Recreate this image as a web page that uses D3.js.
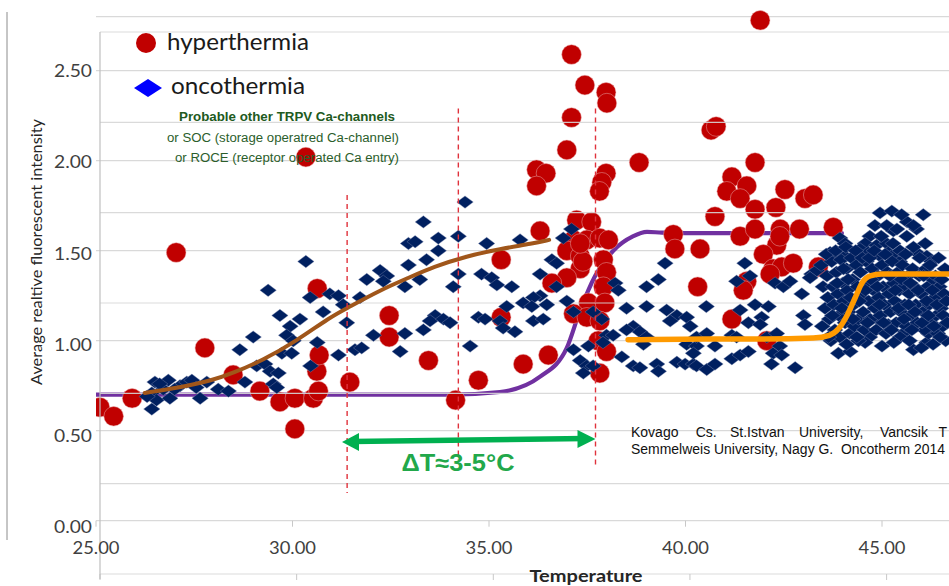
<!DOCTYPE html>
<html><head><meta charset="utf-8">
<script src="https://cdn.jsdelivr.net/npm/d3@7"></script>
<style>body{margin:0;background:#fff}svg{display:block}</style>
</head><body>
<svg id="c" width="949" height="586"></svg>
<script>
// ---------- data ----------
const xTicks = [25, 30, 35, 40, 45];
const yTicks = [0, 0.5, 1, 1.5, 2, 2.5];
const yTicksB = [0, 0.5, 1, 1.5, 2, 2.5, 3];

const hyperthermia = [
[25.10,0.63],[25.45,0.58],[25.92,0.68],[27.04,1.49],[27.77,0.96],[28.49,0.81],[29.17,0.72],[29.68,0.66],
[30.06,0.68],[30.06,0.51],[30.53,0.68],[30.66,0.72],[30.62,0.83],[30.68,0.92],[30.63,1.29],[30.34,2.02],
[31.46,0.77],[32.46,1.14],[32.46,1.02],[34.15,0.67],[33.46,0.89],[34.73,0.78],[35.31,1.45],[35.31,1.13],
[35.87,0.87],[36.51,0.92],[36.30,1.61],[36.21,1.95],[36.45,1.93],[36.21,1.86],[36.98,2.06],[37.10,2.24],
[37.10,2.59],[37.44,2.42],[37.98,2.38],[38.00,2.32],[37.98,1.93],[37.87,1.88],[37.81,1.83],[38.82,1.99],
[37.23,1.67],[37.61,1.66],[37.15,1.56],[37.49,1.56],[37.82,1.57],[38.04,1.56],[36.98,1.50],[37.32,1.47],
[37.91,1.45],[37.32,1.40],[37.99,1.38],[36.98,1.35],[37.39,1.44],[36.60,1.32],[37.91,1.30],[37.53,1.21],
[37.95,1.21],[37.15,1.15],[37.49,1.13],[37.82,1.11],[37.78,1.00],[37.99,0.94],[37.82,0.82],[37.32,1.54],
[39.69,1.59],[39.73,1.51],[40.37,1.51],[40.31,1.30],[40.65,2.17],[40.78,2.19],[41.90,2.78],[41.77,1.99],
[41.18,1.91],[41.56,1.86],[41.05,1.83],[41.39,1.79],[41.77,1.73],[40.75,1.69],[42.53,1.84],[43.04,1.79],
[43.25,1.81],[42.30,1.74],[41.39,1.58],[41.77,1.62],[42.41,1.62],[42.90,1.62],[43.76,1.63],[42.32,1.53],
[41.98,1.48],[42.23,1.40],[42.45,1.41],[42.74,1.43],[42.15,1.37],[41.56,1.33],[41.47,1.28],[41.18,1.12],
[42.07,1.00],[43.38,1.41],[42.40,1.58]
];

const oncothermia = [
[26.42,0.71],[26.54,0.67],[26.42,0.62],[26.50,0.77],[26.84,0.78],[26.71,0.73],[26.88,0.68],[27.14,0.75],
[27.31,0.77],[27.44,0.78],[27.65,0.68],[27.82,0.77],[28.11,0.73],[28.37,0.72],[28.66,0.95],[29.00,1.02],
[28.79,0.77],[29.09,0.86],[29.30,0.87],[29.43,0.83],[29.64,0.82],[29.51,0.76],[29.60,0.74],[29.38,1.28],
[29.68,1.14],[29.94,1.08],[29.85,1.03],[30.19,1.12],[29.73,0.93],[29.98,0.93],[30.02,1.00],[30.34,1.44],
[30.45,1.24],[30.78,1.16],[30.63,0.99],[30.46,0.86],[30.95,1.26],[31.17,1.25],[31.29,1.20],[31.38,1.10],
[31.17,0.92],[31.59,0.95],[31.76,0.96],[31.72,1.24],[31.89,1.34],[32.06,1.03],[32.23,1.39],[32.40,1.36],
[32.31,1.33],[32.74,0.94],[32.86,1.04],[32.86,1.30],[32.95,1.42],[32.95,1.54],
[26.62,0.76],[27.00,0.73],[27.55,0.74],[26.30,0.69],
[34.39,1.77],[33.33,1.66],[33.12,1.55],[33.71,1.57],[33.71,1.50],[34.22,1.58],[34.94,1.54],[35.79,1.56],
[33.41,1.45],[33.24,1.34],[34.22,1.37],[34.09,1.30],[34.81,1.37],[35.07,1.35],[35.20,1.31],[35.58,1.30],
[36.30,1.37],[36.60,1.45],[36.72,1.43],[36.89,1.57],[37.10,1.62],[36.72,1.30],[36.30,1.25],[36.13,1.24],
[35.45,1.19],[35.87,1.21],[36.09,1.19],[36.47,1.20],[36.98,1.22],[37.15,1.16],[33.63,1.14],[33.50,1.11],
[33.84,1.12],[34.01,1.10],[33.33,1.06],[34.73,1.13],[34.90,1.12],[35.28,1.11],[35.36,1.07],[35.66,1.05],
[36.13,1.11],[36.38,1.12],[34.52,0.97],[37.65,1.16],[37.87,1.12],[37.99,1.03],[38.16,1.03],[37.15,0.95],
[37.32,0.89],[37.49,0.86],[37.40,0.82],[37.65,0.86],[37.53,0.97],[38.21,1.32],[38.29,1.28],[38.50,1.18],
[38.67,1.08],[38.84,1.05],[38.50,1.06],[38.38,0.91],[38.67,0.86],[38.84,0.85],[39.01,1.30],[39.01,1.19],
[39.48,1.43],[39.31,1.34],[39.52,1.17],[39.78,1.14],[39.01,1.02],[38.93,0.98],[37.90,0.99],[40.03,1.13],
[40.12,1.08],[39.27,0.87],[39.31,0.83],[39.78,0.88],[39.99,0.87],[40.20,0.87],[40.03,0.98],[40.28,0.97],
[40.20,0.93],[40.53,1.19],[40.28,0.86],[40.54,0.84],[40.75,0.87],[40.28,1.02],[40.54,1.04],[40.75,0.97],
[41.18,1.03],[41.30,1.02],[41.18,0.90],[41.39,0.92],[41.39,1.17],[41.51,1.43],[41.64,1.36],[41.30,1.33],
[41.77,1.20],[42.11,1.19],[41.94,1.13],[41.60,1.10],[41.90,1.09],[41.60,0.94],[42.07,1.02],[42.32,1.04],
[42.23,0.93],[42.40,0.97],[42.19,0.87],[42.79,0.85],[42.28,1.32],[42.49,1.30],[42.66,1.33],[42.96,1.26],
[43.00,1.14],[43.04,1.09],[43.21,1.37],[43.34,1.39],[43.17,1.35],[42.45,0.92],[39.61,1.11],
[44.95,1.71],[45.25,1.72],[44.82,1.64],[45.29,1.61],[45.63,1.58],[43.93,1.57],[44.06,1.54],[44.69,1.58],
[44.57,1.54],[44.86,1.53],[45.12,1.54],[43.68,1.49],[43.85,1.48],[44.06,1.47],[44.44,1.51],[44.65,1.49],
[44.95,1.47],[45.16,1.49],[45.88,1.49],[46.14,1.47],[46.26,1.44],[45.24,1.47],[45.45,1.44],[44.95,1.11],
[45.16,1.09],[45.59,1.05],[45.46,1.02],[44.69,1.02],[44.57,0.99],[43.89,0.93],[44.19,0.94],[45.80,0.95],
[46.14,0.99],[46.18,1.04],
[43.45,1.42],[43.50,1.30],[43.55,1.18],[43.48,1.08],[43.60,1.36],[43.62,1.24],[43.66,1.12],[43.70,1.00],
[43.72,1.44],[43.75,1.30],[43.78,1.20],[43.80,1.06],[43.84,1.38],[43.88,1.26],[43.90,1.14],[43.93,1.02],
[43.96,1.45],[44.00,1.32],[44.03,1.22],[44.06,1.10],[44.10,1.40],[44.12,1.28],[44.15,1.16],[44.18,1.04],
[44.22,1.46],[44.25,1.34],[44.28,1.20],[44.30,1.08],[44.35,1.42],[44.38,1.30],[44.40,1.12],[44.45,1.38],
[44.48,1.24],[44.52,1.16],[44.55,1.06],[44.60,1.44],[44.62,1.32],[44.66,1.22],[44.70,1.12],[44.75,1.40],
[44.78,1.28],[44.82,1.18],[44.85,1.06],[44.90,1.36],[44.92,1.24],[44.96,1.14],[45.00,1.42],[45.03,1.30],
[45.06,1.20],[45.10,1.04],[45.14,1.38],[45.18,1.26],[45.22,1.16],[45.26,1.44],[45.30,1.32],[45.33,1.22],
[45.36,1.10],[45.40,1.38],[45.44,1.28],[45.48,1.16],[45.52,1.42],[45.55,1.30],[45.58,1.20],[45.62,1.08],
[45.66,1.36],[45.70,1.26],[45.74,1.14],[45.78,1.40],[45.82,1.30],[45.86,1.20],[45.90,1.10],[45.95,1.36],
[46.00,1.26],[46.04,1.16],[46.08,1.06],[46.12,1.40],[46.16,1.30],[46.20,1.20],[46.24,1.10],[46.30,1.34],
[46.34,1.24],[46.38,1.14],[46.42,1.04],[46.46,1.30],[46.50,1.18],[46.55,1.08],[46.58,1.26],[46.62,1.00],
[44.10,0.98],[44.40,1.00],[45.00,0.97],[45.30,0.99],[45.70,1.00],[46.00,0.96],[46.30,0.98],
[43.58,1.48],[43.64,1.02],[43.74,1.14],[43.82,1.50],[43.86,1.32],[43.98,1.18],[44.02,1.40],[44.08,1.52],
[44.14,1.34],[44.20,1.24],[44.26,1.12],[44.33,1.50],[44.36,1.02],[44.42,1.22],[44.50,1.46],[44.58,1.28],
[44.63,1.10],[44.68,1.46],[44.72,1.34],[44.80,1.50],[44.88,1.30],[44.94,1.20],[44.98,1.58],[45.04,1.10],
[45.08,1.48],[45.12,1.64],[45.20,1.36],[45.24,1.06],[45.28,1.54],[45.34,1.28],[45.38,1.62],[45.42,1.18],
[45.46,1.50],[45.50,1.34],[45.56,1.12],[45.60,1.48],[45.64,1.66],[45.68,1.20],[45.72,1.32],[45.76,1.06],
[45.80,1.52],[45.84,1.16],[45.88,1.62],[45.92,1.28],[45.96,1.46],[46.02,1.10],[46.06,1.36],[46.10,1.54],
[46.14,1.22],[46.18,1.14],[46.22,1.42],[46.28,1.28],[46.32,1.08],[46.36,1.36],[46.40,1.20],[46.44,1.46],
[46.48,1.02],[46.52,1.34],[46.56,1.14],[46.60,1.40],[46.64,1.22],[46.66,1.10],[45.50,1.70],[46.05,1.70],
[45.80,1.64]
];

// fitted curves
const purpleCurve = [[25.0,0.70],[34.0,0.70],[35.28,0.715],[36.30,0.80],[36.98,0.96],[37.32,1.17],[37.70,1.36],
  [38.16,1.50],[38.66,1.58],[39.02,1.605],[39.40,1.60],[40.0,1.598],[43.98,1.598]];
const brownCurve = [[26.24,0.71],[27.13,0.74],[27.97,0.78],[28.48,0.82],[29.24,0.89],[30.11,1.00],[30.95,1.13],
  [31.38,1.18],[32.22,1.28],[32.96,1.35],[33.58,1.41],[34.43,1.47],[35.28,1.51],[36.12,1.54],[36.53,1.56]];
const orangeCurve = [[38.54,1.005],[40.5,1.01],[42.0,1.01],[43.25,1.015],[43.66,1.03],[43.91,1.07],[44.11,1.14],
  [44.32,1.24],[44.49,1.32],[44.70,1.36],[44.99,1.37],[46.7,1.37]];

// annotation markers (temperature, top, bottom)
const dashedT = [31.39, 34.22, 37.71];
const dashedTop = [1.81, 2.29, 2.29];
const dashedBottom = [0.154, 0.337, 0.303];
const arrowFromT = 31.26, arrowToT = 37.71, arrowLevel = 0.448;

// ---------- drawing ----------
const svg = d3.select("#c");
const x = d3.scaleLinear().domain([25, 46.7]).range([96, 96 + 21.7 * 39.3]);
const y = d3.scaleLinear().domain([0, 2.8]).range([520.7, 520.7 - 2.8 * 180]);
const xB = d3.scaleLinear().domain([25, 46.6]).range([100, 100 + 21.6 * 39.33]);
const yB = d3.scaleLinear().domain([0, 3]).range([574, 32]);
const yLab = d3.scaleLinear().domain([0, 2.5]).range([527, 71]);

svg.append("defs").append("clipPath").attr("id", "plot")
  .append("rect").attr("x", 96).attr("y", 8).attr("width", 853).attr("height", 575);

// outer frame line at left
svg.append("line").attr("x1", 7).attr("x2", 7).attr("y1", 12).attr("y2", 540)
  .attr("stroke", "#8c8c8c").attr("stroke-width", 1);

// grid A
const gA = svg.append("g");
gA.selectAll("line").data(yTicks.concat([2.8])).join("line")
  .attr("x1", 96).attr("x2", 949).attr("y1", d => y(d)).attr("y2", d => y(d))
  .attr("stroke", "#d9d9d9").attr("stroke-width", 1.2);
gA.selectAll("line.t").data(xTicks).join("line").attr("class", "t")
  .attr("x1", d => x(d)).attr("x2", d => x(d)).attr("y1", y(0)).attr("y2", y(0) + 6)
  .attr("stroke", "#c8c8c8");

const plotA = svg.append("g").attr("clip-path", "url(#plot)");
const smooth = d3.line().x(d => x(d[0])).y(d => y(d[1])).curve(d3.curveMonotoneX);
const basis = d3.line().x(d => x(d[0])).y(d => y(d[1])).curve(d3.curveBasis);

// purple sigmoid (hyperthermia)
plotA.append("path").datum(purpleCurve).attr("d", smooth)
  .attr("fill", "none").attr("stroke", "#7030a0").attr("stroke-width", 4.2).attr("stroke-linecap", "round");

// hyperthermia circles
plotA.append("g").selectAll("circle").data(hyperthermia).join("circle")
  .attr("cx", d => x(d[0])).attr("cy", d => y(d[1])).attr("r", 9.8)
  .attr("fill", "#c00000").attr("stroke", "#e8a8a8").attr("stroke-width", 0.5);

// grid B (second overlaid chart)
const gB = svg.append("g");
gB.selectAll("line").data(yTicksB).join("line")
  .attr("x1", 100).attr("x2", 949).attr("y1", d => yB(d)).attr("y2", d => yB(d))
  .attr("stroke", "#d6d6d6").attr("stroke-opacity", 0.9).attr("stroke-width", 1.2);
gB.selectAll("line.t").data(xTicks).join("line").attr("class", "t")
  .attr("x1", d => xB(d)).attr("x2", d => xB(d)).attr("y1", yB(0)).attr("y2", yB(0) + 6)
  .attr("stroke", "#c8c8c8");
svg.append("line").attr("x1", 100).attr("x2", 100).attr("y1", yB(3)).attr("y2", 579)
  .attr("stroke", "#bfbfbf").attr("stroke-width", 1.2);

const plotB = svg.append("g").attr("clip-path", "url(#plot)");

// oncothermia diamonds
plotB.append("g").selectAll("path").data(oncothermia).join("path")
  .attr("transform", d => `translate(${x(d[0])},${y(d[1])})`)
  .attr("d", "M0,-6.2L8.2,0L0,6.2L-8.2,0Z")
  .attr("fill", "#002060").attr("stroke", "#7d8cb0").attr("stroke-width", 0.4);

// brown and orange fits
plotB.append("path").datum(brownCurve).attr("d", basis)
  .attr("fill", "none").attr("stroke", "#a0561a").attr("stroke-width", 4).attr("stroke-linecap", "round");
plotB.append("path").datum(orangeCurve).attr("d", smooth)
  .attr("fill", "none").attr("stroke", "#ff9a00").attr("stroke-width", 5.5).attr("stroke-linecap", "round");

// dashed markers
svg.append("g").selectAll("line").data(dashedT).join("line")
  .attr("x1", d => x(d)).attr("x2", d => x(d))
  .attr("y1", (d, i) => y(dashedTop[i])).attr("y2", (d, i) => y(dashedBottom[i]))
  .attr("stroke", "#e0323c").attr("stroke-width", 1.4).attr("stroke-dasharray", "5,4");

// green arrow
const ax1 = x(arrowFromT), ax2 = x(arrowToT), ay = y(arrowLevel);
const ag = svg.append("g").attr("fill", "#00b050");
ag.append("line").attr("x1", ax1 + 10).attr("x2", ax2 - 10).attr("y1", ay + 1.5).attr("y2", ay - 1.5)
  .attr("stroke", "#00b050").attr("stroke-width", 5.5);
ag.append("path").attr("d", `M${ax1},${ay + 2}L${ax1 + 17},${ay - 7}L${ax1 + 17},${ay + 11}Z`);
ag.append("path").attr("d", `M${ax2},${ay - 1}L${ax2 - 18},${ay - 10}L${ax2 - 18},${ay + 8}Z`);
svg.append("text").attr("x", 458).attr("y", 471).attr("text-anchor", "middle")
  .attr("font-family", "Liberation Sans, Arial, sans-serif").attr("font-weight", "bold").attr("font-size", 23)
  .attr("fill", "#22a84a").attr("textLength", 113).attr("lengthAdjust", "spacingAndGlyphs")
  .text("ΔT≈3-5°C");

// axes labels
const axisFont = "Lato, 'Open Sans', sans-serif";
svg.append("g").selectAll("text").data(yTicks).join("text")
  .attr("x", 92).attr("y", d => yLab(d)).attr("dy", "0.36em").attr("text-anchor", "end")
  .attr("font-family", axisFont).attr("font-size", 17).attr("fill", "#404040")
  .attr("textLength", 38).attr("lengthAdjust", "spacingAndGlyphs")
  .text(d => d3.format(".2f")(d));
svg.append("g").selectAll("text").data(xTicks).join("text")
  .attr("x", d => x(d)).attr("y", 548).attr("dy", "0.36em").attr("text-anchor", "middle")
  .attr("font-family", axisFont).attr("font-size", 17).attr("fill", "#404040")
  .attr("textLength", 47).attr("lengthAdjust", "spacingAndGlyphs")
  .text(d => d3.format(".2f")(d));
svg.append("text").attr("transform", "translate(42,252) rotate(-90)").attr("text-anchor", "middle")
  .attr("font-family", axisFont).attr("font-size", 15.5).attr("fill", "#262626")
  .attr("textLength", 266).attr("lengthAdjust", "spacingAndGlyphs")
  .text("Average realtive fluorescent intensity");
svg.append("text").attr("x", 586).attr("y", 582).attr("text-anchor", "middle")
  .attr("font-family", axisFont).attr("font-weight", "bold").attr("font-size", 17).attr("fill", "#262626")
  .attr("textLength", 113).attr("lengthAdjust", "spacingAndGlyphs")
  .text("Temperature");

// legend
svg.append("circle").attr("cx", 146).attr("cy", 43).attr("r", 10).attr("fill", "#c00000");
svg.append("text").attr("x", 167).attr("y", 49.5).attr("font-family", axisFont).attr("font-size", 24)
  .attr("fill", "#1a1a1a").attr("textLength", 142).attr("lengthAdjust", "spacingAndGlyphs").text("hyperthermia");
svg.append("path").attr("transform", "translate(148,88)").attr("d", "M0,-9L14,0L0,9L-14,0Z").attr("fill", "#0000ff");
svg.append("text").attr("x", 171).attr("y", 94).attr("font-family", axisFont).attr("font-size", 24)
  .attr("fill", "#1a1a1a").attr("textLength", 134).attr("lengthAdjust", "spacingAndGlyphs").text("oncothermia");

// channel note
const noteFont = "Liberation Sans, Arial, sans-serif";
svg.append("text").attr("x", 287).attr("y", 121).attr("text-anchor", "middle").attr("font-family", noteFont)
  .attr("font-weight", "bold").attr("font-size", 12).attr("fill", "#215a21")
  .attr("textLength", 216).attr("lengthAdjust", "spacingAndGlyphs").text("Probable other TRPV Ca-channels");
svg.append("text").attr("x", 283).attr("y", 141.5).attr("text-anchor", "middle").attr("font-family", noteFont)
  .attr("font-size", 12.5).attr("fill", "#2b5e2b")
  .attr("textLength", 232).attr("lengthAdjust", "spacingAndGlyphs").text("or SOC (storage operatred Ca-channel)");
svg.append("text").attr("x", 287).attr("y", 162).attr("text-anchor", "middle").attr("font-family", noteFont)
  .attr("font-size", 12.5).attr("fill", "#2b5e2b")
  .attr("textLength", 224).attr("lengthAdjust", "spacingAndGlyphs").text("or ROCE (receptor operated Ca entry)");

// citation
const cite1 = [["Kovago", 631], ["Cs.", 695.7], ["St.Istvan", 730], ["University,", 799], ["Vancsik", 880], ["T", 938.5]];
const cite2 = "Semmelweis University, Nagy G.  Oncotherm 2014";
const c1 = svg.append("text").attr("y", 437).attr("font-family", noteFont).attr("font-size", 14).attr("fill", "#111");
c1.selectAll("tspan").data(cite1).join("tspan").attr("x", d => d[1]).text(d => d[0]);
svg.append("text").attr("x", 631).attr("y", 454).attr("font-family", noteFont).attr("font-size", 14)
  .attr("fill", "#111").attr("xml:space", "preserve").style("white-space", "pre")
  .attr("textLength", 314).attr("lengthAdjust", "spacingAndGlyphs").text(cite2);
</script>
</body></html>
